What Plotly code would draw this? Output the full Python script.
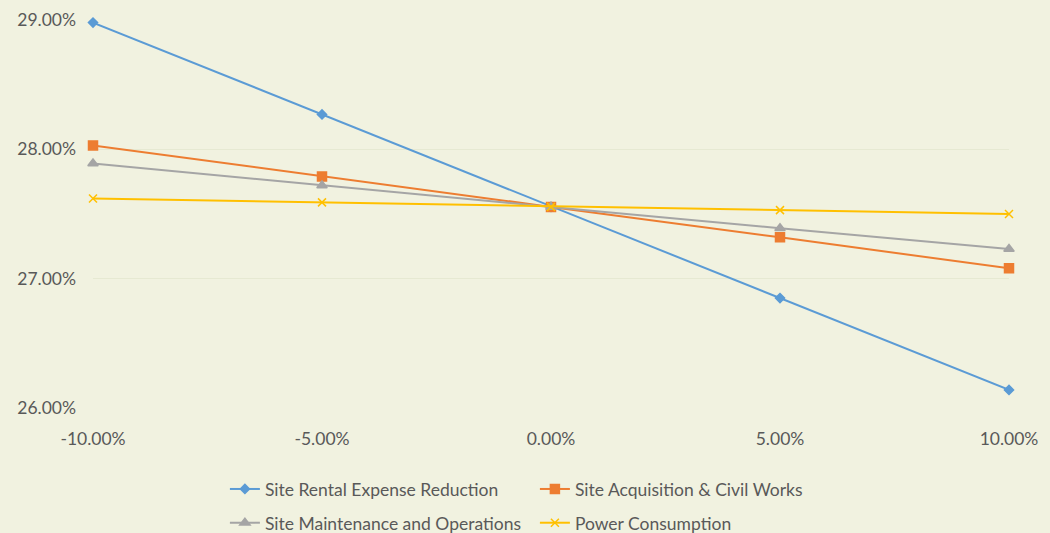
import plotly.graph_objects as go

categories = ["-10.00%", "-5.00%", "0.00%", "5.00%", "10.00%"]
rental = [28.98, 28.27, 27.555, 26.85, 26.14]
acquisition = [28.03, 27.79, 27.555, 27.32, 27.08]
maintenance = [27.89, 27.72, 27.555, 27.39, 27.23]
power = [27.62, 27.59, 27.555, 27.53, 27.50]
y_ticks = [26, 27, 28, 29]
y_tick_labels = ["26.00%", "27.00%", "28.00%", "29.00%"]

series = [
    ("Site Rental Expense Reduction", rental, "#5B9BD5", "diamond", 7, "legend"),
    ("Site Acquisition & Civil Works", acquisition, "#ED7D31", "square", 9, "legend"),
    ("Site Maintenance and Operations", maintenance, "#A5A5A5", "triangle-up", 9, "legend2"),
    ("Power Consumption", power, "#FFC000", "x-thin", 8, "legend2"),
]

fig = go.Figure()
for name, vals, color, sym, size, leg in series:
    fig.add_trace(go.Scatter(
        x=categories, y=vals, name=name, mode="lines+markers",
        line=dict(color=color, width=2),
        marker=dict(symbol=sym, size=size, color=color,
                    line=dict(color=color, width=1.5)),
        legend=leg, cliponaxis=False,
    ))

bg = "#F1F2E0"
legend_common = dict(orientation="h", xanchor="left", yanchor="middle",
                     font=dict(size=17.5, color="#595959"),
                     entrywidth=265, entrywidthmode="pixels",
                     bgcolor="rgba(0,0,0,0)", itemwidth=30, tracegroupgap=0)
fig.update_layout(
    width=1050, height=533,
    paper_bgcolor=bg, plot_bgcolor=bg,
    margin=dict(l=93, r=41, t=20, b=125, autoexpand=False),
    font=dict(family="Lato, Open Sans, sans-serif", size=17.5, color="#595959"),
    xaxis=dict(type="category", range=[0, 4], showgrid=False, zeroline=False,
               showline=False, ticks="", ticklabelstandoff=18, automargin=False),
    yaxis=dict(range=[26, 29], tickvals=y_ticks, ticktext=y_tick_labels,
               showgrid=True, gridcolor="#E6E9D2", gridwidth=1, zeroline=False,
               showline=False, ticks="", ticklabelstandoff=16, automargin=False),
    legend=dict(x=0.144, y=-0.209, **legend_common),
    legend2=dict(x=0.144, y=-0.296, **legend_common),
    showlegend=True,
)
fig.write_html("out.html")
